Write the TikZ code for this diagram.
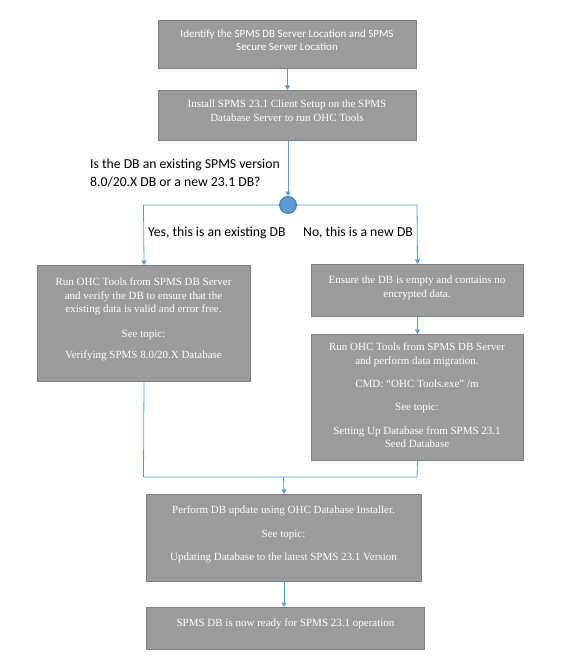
\documentclass[tikz,border=0pt]{standalone}
\usepackage{fontspec}
\setmainfont{Liberation Serif}
\newfontfamily\calfam{Carlito}
\usetikzlibrary{arrows.meta}
\definecolor{boxfill}{HTML}{9B9B9B}
\definecolor{boxline}{HTML}{7F7F7F}
\definecolor{lnblue}{HTML}{5B9BD5}
\definecolor{circline}{HTML}{41719C}
\tikzset{
  stepbox/.style={draw=boxline, fill=boxfill, line width=1pt, inner sep=0pt, anchor=north west},
  boxtext/.style={text=white, align=center, anchor=north, inner sep=0pt, font=\fontsize{11}{13.5}\selectfont},
  conn/.style={draw=lnblue, line width=0.8pt},
  arr/.style={conn, -{Triangle[width=5pt,length=4.5pt]}},
  plain/.style={align=left, inner sep=0pt, font=\calfam\fontsize{13.7}{18}\selectfont},
}
\begin{document}
\begin{tikzpicture}[x=1pt,y=-1pt]
\useasboundingbox (0,0) rectangle (564,668);
% boxes
\node[stepbox, minimum width=258pt, minimum height=48pt] (b1) at (158,20) {};
\node[stepbox, minimum width=258pt, minimum height=50pt] (b2) at (158,90) {};
\node[circle, fill=lnblue, draw=circline, line width=0.8pt, minimum size=17pt, inner sep=0pt] (dec) at (288,205) {};
\node[stepbox, minimum width=213pt, minimum height=116pt] (l1) at (37,265) {};
\node[stepbox, minimum width=212pt, minimum height=52pt] (r1) at (311,264) {};
\node[stepbox, minimum width=212pt, minimum height=126pt] (r2) at (311,334) {};
\node[stepbox, minimum width=275pt, minimum height=87pt] (b4) at (146,494) {};
\node[stepbox, minimum width=278pt, minimum height=42pt] (b5) at (146,607) {};
% texts
\node[boxtext, font=\calfam\fontsize{11}{13}\selectfont] (t1) at (287,30) {Identify the SPMS DB Server Location and SPMS\\Secure Server Location};
\node[boxtext] (t2) at (287,100) {Install SPMS 23.1 Client Setup on the SPMS\\Database Server to run OHC Tools};
\node[boxtext] (t3) at (143.5,278) {Run OHC Tools from SPMS DB Server\\and verify the DB to ensure that the\\existing data is valid and error free.\\[11pt]See topic:\\[7.5pt]Verifying SPMS 8.0/20.X Database};
\node[boxtext] (t4) at (417,276) {Ensure the DB is empty and contains no\\encrypted data.};
\node[boxtext] (t5) at (417,343) {Run OHC Tools from SPMS DB Server\\and perform data migration.\\[10pt]CMD: “OHC Tools.exe” /m\\[9.5pt]See topic:\\[10pt]Setting Up Database from SPMS 23.1\\Seed Database};
\node[boxtext] (t6) at (283.5,506) {Perform DB update using OHC Database Installer.\\[10pt]See topic:\\[9.5pt]Updating Database to the latest SPMS 23.1 Version};
\node[boxtext] (t7) at (285.5,619) {SPMS DB is now ready for SPMS 23.1 operation};
\node[plain, anchor=north west] (q) at (90,159) {Is the DB an existing SPMS version\\8.0/20.X DB or a new 23.1 DB?};
\node[plain, anchor=north west] (yes) at (148,227) {Yes, this is an existing DB};
\node[plain, anchor=north west] (no) at (303,227) {No, this is a new DB};
% connectors
\coordinate (jl) at (143.5,205);
\coordinate (jr) at (417,205);
\coordinate (ml) at (143.5,477);
\coordinate (mr) at (417,477);
\coordinate (mc) at (283.5,477);
\draw[arr] (b1.south) -- (b2.north);
\draw[arr] (b2.south -| dec) -- (dec.north);
\draw[arr] (dec.west) -- (jl) -- (l1.north);
\draw[arr] (dec.east) -- (jr) -- (r1.north);
\draw[arr] (r1.south) -- (r2.north);
\draw[conn] (l1.south) -- (ml) -- (mr) -- (r2.south);
\draw[arr] (mc) -- (b4.north);
\draw[arr] (b4.south) -- (b4.south |- b5.north);
\end{tikzpicture}
\end{document}
